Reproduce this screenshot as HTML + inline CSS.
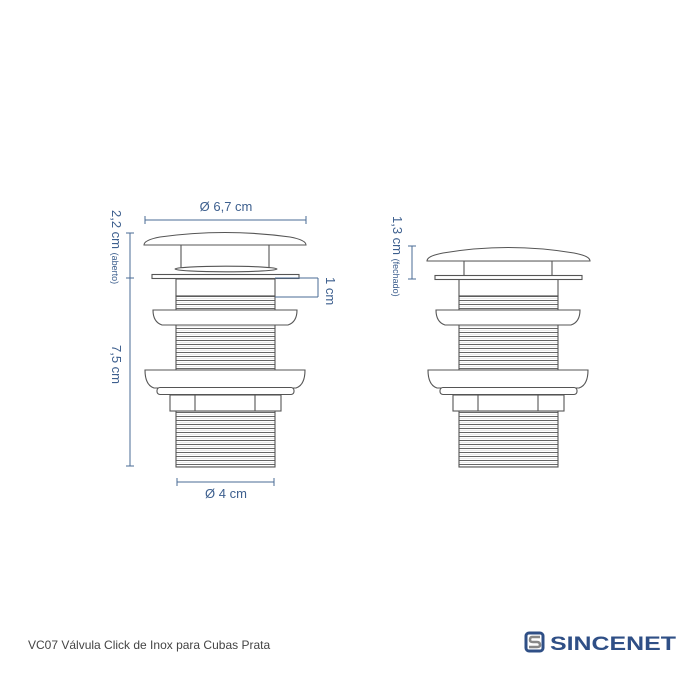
<!DOCTYPE html>
<html><head><meta charset="utf-8"><style>
html,body{margin:0;padding:0;background:#fff;}
body{width:700px;height:700px;overflow:hidden;position:relative;font-family:"Liberation Sans",sans-serif;}
</style></head><body>
<svg width="700" height="700" viewBox="0 0 700 700" xmlns="http://www.w3.org/2000/svg" style="position:absolute;left:0;top:0">
<defs>
<pattern id="thr" x="0" y="0" width="10" height="4" patternUnits="userSpaceOnUse">
<rect width="10" height="4" fill="#fff"/>
<line x1="0" y1="0.5" x2="10" y2="0.5" stroke="#666" stroke-width="1"/>
<line x1="0" y1="2.5" x2="10" y2="2.5" stroke="#ddd" stroke-width="0.6"/>
</pattern>
<g id="lower" stroke="#555" stroke-width="1.1" fill="#fff">
<rect x="176" y="279" width="99" height="17"/>
<rect x="176" y="296" width="99" height="14" fill="url(#thr)"/>
<rect x="176" y="325" width="99" height="45" fill="url(#thr)"/>
<path d="M153,310 L297,310 Q297,322 288,325 L162,325 Q153,322 153,310 Z"/>
<rect x="176" y="411" width="99" height="56" fill="url(#thr)"/>
<path d="M145,370 L305,370 Q305,385 296,388 L154,388 Q145,385 145,370 Z"/>
<rect x="157" y="387.5" width="137" height="7" rx="3"/>
<rect x="170" y="395" width="111" height="16"/>
<line x1="195" y1="395" x2="195" y2="411"/>
<line x1="255" y1="395" x2="255" y2="411"/>
</g>
</defs>
<use href="#lower"/>
<g stroke="#555" stroke-width="1.1" fill="#fff">
<rect x="181" y="244" width="88" height="24"/>
<ellipse cx="226" cy="269" rx="51" ry="2.8"/>
<rect x="152" y="274.5" width="147" height="4"/>
<path d="M144,245 Q144,240 160,237 Q225,228 290,237 Q306,240 306,245 Z"/>
</g>
<use href="#lower" transform="translate(283,0)"/>
<g stroke="#555" stroke-width="1.1" fill="#fff">
<rect x="464" y="261" width="88" height="15"/>
<rect x="435" y="275.5" width="147" height="4"/>
<path d="M427,261 Q427,256 443,253 Q508,242 574,253 Q590,256 590,261 Z"/>
</g>
<g stroke="#4a6b95" stroke-width="1" fill="none">
<line x1="145" y1="220" x2="306" y2="220"/>
<line x1="145" y1="216" x2="145" y2="224"/><line x1="306" y1="216" x2="306" y2="224"/>
<line x1="130" y1="233" x2="130" y2="466"/>
<line x1="126" y1="233" x2="134" y2="233"/><line x1="126" y1="278" x2="134" y2="278"/><line x1="126" y1="466" x2="134" y2="466"/>
<line x1="275" y1="278" x2="318" y2="278"/><line x1="275" y1="297" x2="318" y2="297"/><line x1="318" y1="278" x2="318" y2="297"/>
<line x1="177" y1="482" x2="274" y2="482"/>
<line x1="177" y1="478" x2="177" y2="486"/><line x1="274" y1="478" x2="274" y2="486"/>
<line x1="412" y1="246" x2="412" y2="279"/>
<line x1="408" y1="246" x2="416" y2="246"/><line x1="408" y1="279" x2="416" y2="279"/>
</g>
<g fill="#3d5f8e" font-family="Liberation Sans, sans-serif">
<text x="226" y="211" font-size="13" text-anchor="middle">Ø 6,7 cm</text>
<text x="226" y="498" font-size="13" text-anchor="middle">Ø 4 cm</text>
<text transform="translate(112,210) rotate(90)" font-size="13">2,2 cm <tspan font-size="9">(aberto)</tspan></text>
<text transform="translate(112,345) rotate(90)" font-size="13">7,5 cm</text>
<text transform="translate(326,277) rotate(90)" font-size="13">1 cm</text>
<text transform="translate(393,216) rotate(90)" font-size="13">1,3 cm <tspan font-size="9">(fechado)</tspan></text>
</g>
<text x="28" y="649" font-size="12" fill="#444" font-family="Liberation Sans, sans-serif">VC07 Válvula Click de Inox para Cubas Prata</text>
<g>
<rect x="526" y="633" width="17" height="18" rx="3" fill="none" stroke="#2f4f86" stroke-width="3"/>
<path d="M540,637 L532,637 Q530,637 530,640 Q530,642 533,642 L537,642 Q540,642 540,645 Q540,647 537,647 L529,647" fill="none" stroke="#888" stroke-width="2.5"/>
<text x="550" y="650" font-size="19" font-weight="bold" fill="#2f4f86" font-family="Liberation Sans, sans-serif" textLength="126" lengthAdjust="spacingAndGlyphs">SINCENET</text>
</g>
</svg>
</body></html>
